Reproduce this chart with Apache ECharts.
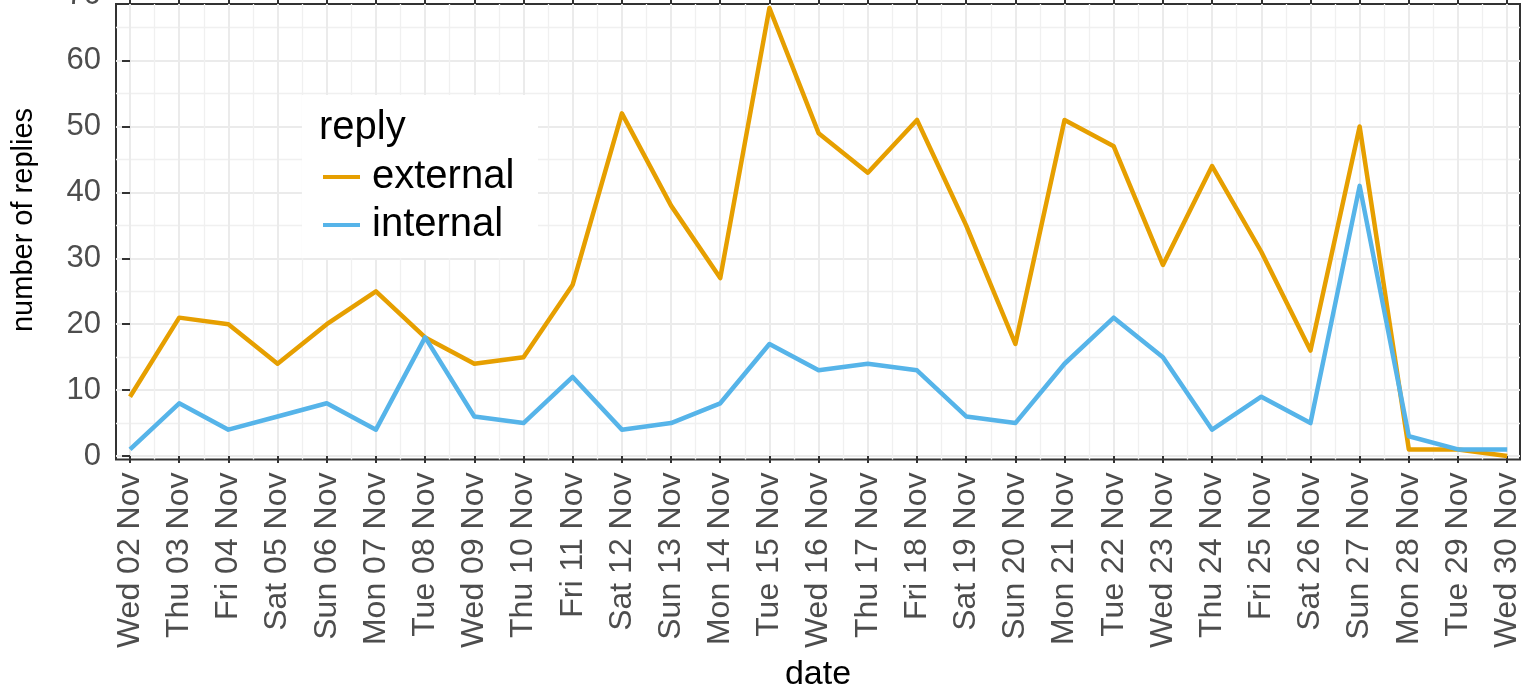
<!DOCTYPE html>
<html>
<head>
<meta charset="utf-8">
<title>replies per day</title>
<script src="https://cdn.jsdelivr.net/npm/echarts@6/dist/echarts.min.js"></script>
<style>
  html, body { margin: 0; padding: 0; background: #fff; }
  #chart { width: 1521px; height: 695px; }
</style>
</head>
<body>
<div id="chart"></div>
<script>
// x axis: one tick per day
const days = [
  'Wed 02 Nov', 'Thu 03 Nov', 'Fri 04 Nov', 'Sat 05 Nov', 'Sun 06 Nov', 'Mon 07 Nov',
  'Tue 08 Nov', 'Wed 09 Nov', 'Thu 10 Nov', 'Fri 11 Nov', 'Sat 12 Nov', 'Sun 13 Nov',
  'Mon 14 Nov', 'Tue 15 Nov', 'Wed 16 Nov', 'Thu 17 Nov', 'Fri 18 Nov', 'Sat 19 Nov',
  'Sun 20 Nov', 'Mon 21 Nov', 'Tue 22 Nov', 'Wed 23 Nov', 'Thu 24 Nov', 'Fri 25 Nov',
  'Sat 26 Nov', 'Sun 27 Nov', 'Mon 28 Nov', 'Tue 29 Nov', 'Wed 30 Nov'
]
const external = [9, 21, 20, 14, 20, 25, 18, 14, 15, 26, 52, 38, 27, 68, 49, 43, 51, 35, 17, 51, 47, 29, 44, 31, 16, 50, 1, 1, 0]
const internal = [1, 8, 4, 6, 8, 4, 18, 6, 5, 12, 4, 5, 8, 17, 13, 14, 13, 6, 5, 14, 21, 15, 4, 9, 5, 41, 3, 1, 1]
const yTicks = [0, 10, 20, 30, 40, 50, 60]

const dayIdx = days.map((d, i) => i)
const font = 'Liberation Sans, Arial, sans-serif'
const grid92 = '#EBEBEB'

const chart = echarts.init(document.getElementById('chart'), null, { renderer: 'canvas' })

const xBase = {
  type: 'value',
  min: -0.285,
  max: 28.26,
  minInterval: 1,
  maxInterval: 1,
  splitNumber: 28,
}

const option = {
  animation: false,
  backgroundColor: '#fff',
  grid: {
    left: 116,
    right: 1,
    top: 4,
    bottom: 235.5,
    show: true,
    backgroundColor: '#fff',
    borderColor: '#333333',
    borderWidth: 2,
    outerBoundsMode: 'none',
    containLabel: false,
  },
  xAxis: [
    Object.assign({}, xBase, {
      position: 'bottom',
      name: 'date',
      nameLocation: 'middle',
      nameGap: 198,
      nameTextStyle: { fontFamily: font, fontSize: 34, color: '#000' },
      axisLine: { show: false },
      axisTick: { show: true, length: 7, customValues: dayIdx, lineStyle: { color: '#333333', width: 2 } },
      axisLabel: {
        customValues: dayIdx,
        rotate: 90,
        margin: 13,
        fontFamily: font,
        fontSize: 32,
        color: '#4D4D4D',
        formatter: (v) => days[v] || '',
      },
      splitLine: { show: true, lineStyle: { color: grid92, width: 2 } },
      minorTick: { show: false, splitNumber: 2 },
      minorSplitLine: { show: true, lineStyle: { color: '#F0F0F0', width: 1.3 } },
    }),
    Object.assign({}, xBase, {
      position: 'top',
      axisLine: { show: false },
      axisTick: { show: true, length: 7, customValues: dayIdx, lineStyle: { color: '#333333', width: 2 } },
      axisLabel: { show: false },
      splitLine: { show: false },
    }),
  ],
  yAxis: {
    type: 'value',
    min: -0.53,
    max: 68.6,
    minInterval: 10,
    maxInterval: 10,
    axisLine: { show: false },
    axisTick: { show: true, length: 8, customValues: yTicks, lineStyle: { color: '#333333', width: 2 } },
    axisLabel: {
      customValues: yTicks,
      margin: 15,
      fontFamily: font,
      fontSize: 31,
      color: '#4D4D4D',
    },
    splitLine: { show: true, lineStyle: { color: grid92, width: 2 } },
    minorTick: { show: false, splitNumber: 2 },
    minorSplitLine: { show: true, lineStyle: { color: '#F0F0F0', width: 1.3 } },
  },
  legend: {
    orient: 'vertical',
    left: 323,
    top: 157,
    z: 20,
    padding: 0,
    icon: 'rect',
    itemWidth: 37,
    itemHeight: 4,
    itemGap: 8,
    textStyle: { fontFamily: font, fontSize: 40, color: '#000', padding: [0, 0, 0, 7] },
    data: ['external', 'internal'],
  },
  graphic: [
    {
      type: 'rect',
      z: 15,
      shape: { x: 302, y: 95, width: 236, height: 163 },
      style: { fill: '#fff' },
    },
    {
      type: 'text',
      z: 20,
      x: 319,
      y: 128,
      style: { text: 'reply', font: '40px ' + font, fill: '#000', align: 'left', verticalAlign: 'middle' },
    },
    {
      type: 'text',
      z: 20,
      x: 24,
      y: 220,
      rotation: Math.PI / 2,
      style: { text: 'number of replies', font: '29px ' + font, fill: '#000', align: 'center', verticalAlign: 'middle' },
    },
    {
      type: 'text',
      z: 20,
      x: 101,
      y: -5,
      style: { text: '70', font: '31px ' + font, fill: '#4D4D4D', align: 'right', verticalAlign: 'middle' },
    },
  ],
  series: [
    {
      name: 'external',
      type: 'line',
      xAxisIndex: 0,
      data: external.map((v, i) => [i, v]),
      symbol: 'none',
      color: '#E69F00',
      lineStyle: { color: '#E69F00', width: 4.5, join: 'round' },
      z: 3,
    },
    {
      name: 'internal',
      type: 'line',
      xAxisIndex: 0,
      data: internal.map((v, i) => [i, v]),
      symbol: 'none',
      color: '#56B4E9',
      lineStyle: { color: '#56B4E9', width: 4.5, join: 'round' },
      z: 4,
    },
  ],
}

chart.setOption(option)
</script>
</body>
</html>
